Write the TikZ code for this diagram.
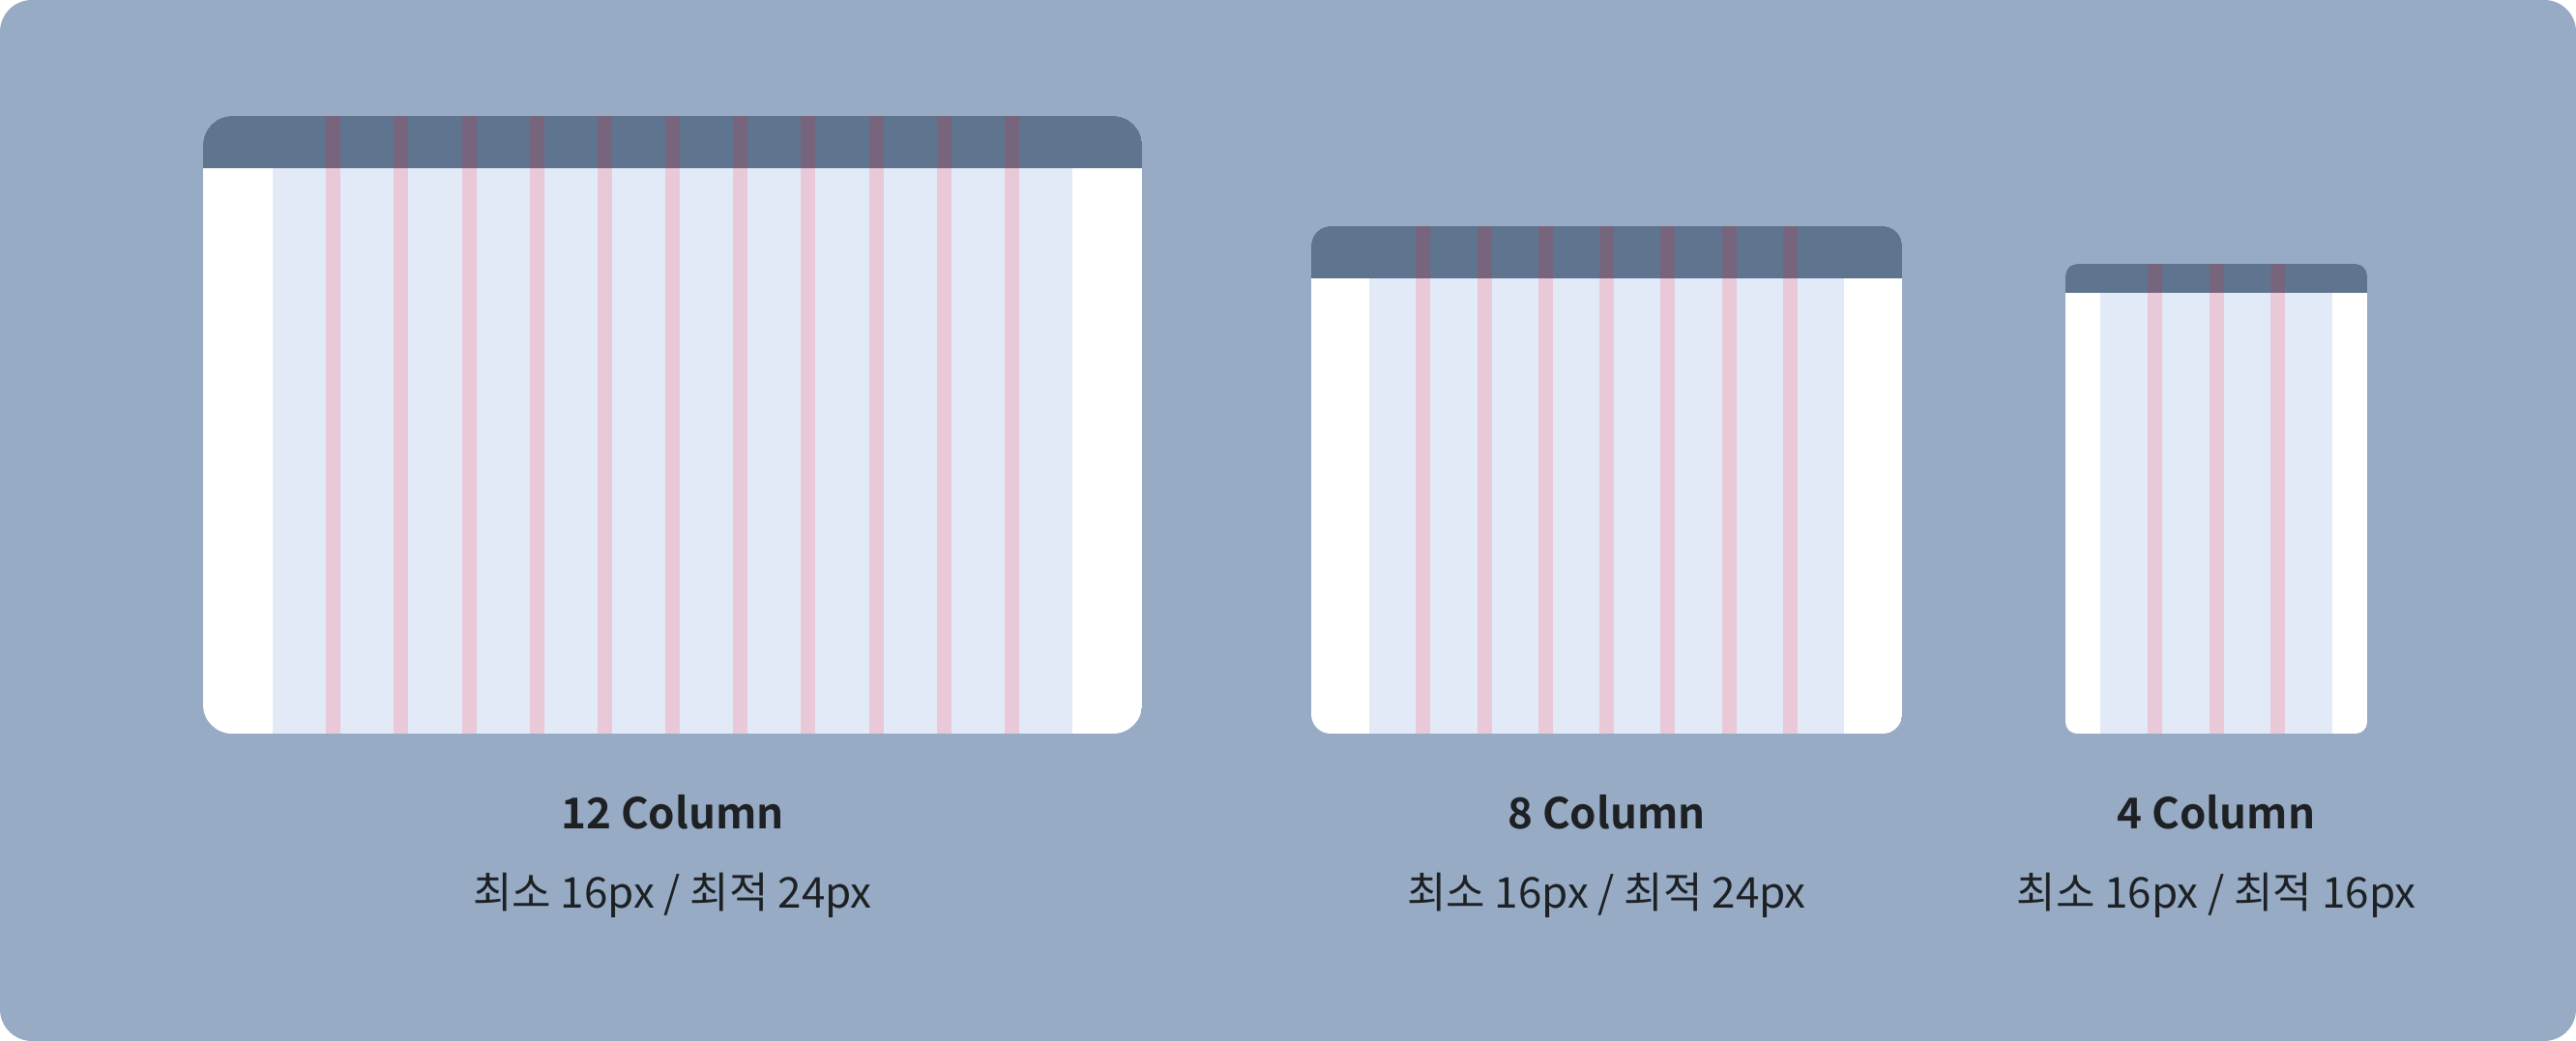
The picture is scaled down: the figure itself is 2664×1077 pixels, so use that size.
\documentclass[tikz,border=0pt]{standalone}
\usepackage{fontspec}
\setmainfont{Noto Sans CJK KR}[BoldFont={Noto Sans CJK KR Bold}]
\definecolor{bgblue}{HTML}{98ABC5}
\definecolor{barblue}{HTML}{5F748E}
\definecolor{barpink}{HTML}{77657E}
\definecolor{colblue}{HTML}{E3EAF7}
\definecolor{gutpink}{HTML}{E9C8D8}
\definecolor{inktext}{HTML}{1E2124}
\tikzset{
  title/.style={font=\fontsize{12.5}{15}\selectfont\bfseries,text=inktext,anchor=base,inner sep=0pt},
  subtitle/.style={font=\fontsize{12.5}{15}\selectfont,text=inktext,anchor=base,inner sep=0pt}
}
\begin{document}
\begin{tikzpicture}[x=0.01cm,y=-0.01cm]
  \fill[bgblue,rounded corners=0.33cm] (0,0) rectangle (2664,1077);
  % left, top, right, bottom, header bottom, margin, columns, radius
  \foreach \L/\T/\R/\B/\H/\M/\N/\rad in {210/120/1181/759/174/72/12/0.30cm,
      1356/234/1967/759/288/60/8/0.20cm, 2136/273/2448/759/303/36/4/0.12cm}{
    \begin{scope}
      \clip[rounded corners=\rad] (\L,\T) rectangle (\R,\B);
      \fill[white] (\L,\T) rectangle (\R,\B);
      \fill[colblue] (\L+\M,\H) rectangle (\R-\M,\B);
      \fill[barblue] (\L,\T) rectangle (\R,\H);
      \pgfmathsetmacro{\colw}{(\R-\L-2*\M-15*(\N-1))/\N}
      \pgfmathtruncatemacro{\last}{\N-1}
      \foreach \i in {1,...,\last}{
        \pgfmathsetmacro{\gx}{\L+\M+\i*\colw+(\i-1)*15}
        \fill[gutpink] (\gx,\H) rectangle ++(15,\B-\H);
        \fill[barpink] (\gx,\T) rectangle ++(15,\H-\T);
      }
    \end{scope}
  }
  \node[title] (t12) at (695.5,858) {12 Column};
  \node[subtitle] (s12) at (695.5,940) {최소 16px / 최적 24px};
  \node[title] (t8) at (1661.5,858) {8 Column};
  \node[subtitle] (s8) at (1661.5,940) {최소 16px / 최적 24px};
  \node[title] (t4) at (2292,858) {4 Column};
  \node[subtitle] (s4) at (2292,940) {최소 16px / 최적 16px};
\end{tikzpicture}
\end{document}
